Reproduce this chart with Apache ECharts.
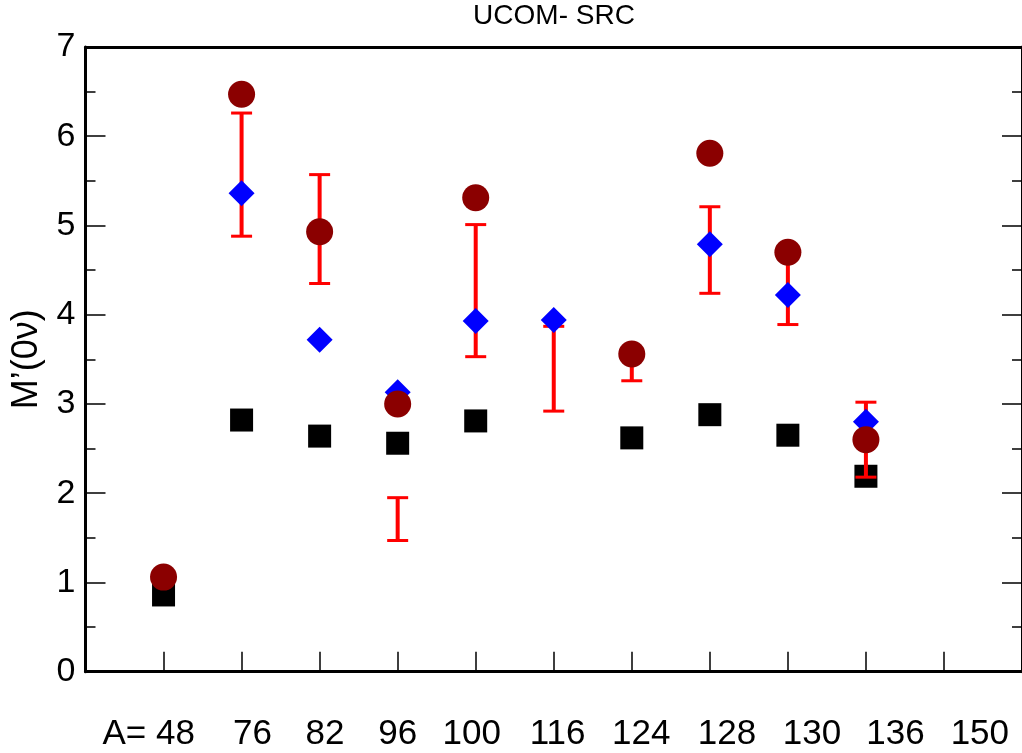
<!DOCTYPE html>
<html>
<head>
<meta charset="utf-8">
<script src="https://cdn.jsdelivr.net/npm/echarts@6/dist/echarts.min.js"></script>
<style>
html,body{margin:0;padding:0;background:#fff;}
#c{width:1022px;height:753px;}
</style>
</head>
<body>
<div id="c"></div>
<script>
// ---- data ----
const categories = ['48','76','82','96','100','116','124','128','130','136','150'];
const tickLabels = ['A= 48','76','82','96','100','116','124','128','130','136','150'];
const squareValues  = [0.86, 2.82, 2.64, 2.56, 2.81, null, 2.62, 2.88, 2.65, 2.19, null];
const circleValues  = [1.06, 6.47, 4.93, 3.00, 5.31, null, 3.56, 5.81, 4.70, 2.60, null];
const diamondValues = [null, 5.36, 3.72, 3.13, 3.93, 3.94, null, 4.79, 4.22, 2.80, null];
const errLow  = [null, 4.88, 4.35, 1.47, 3.53, 2.92, 3.26, 4.24, 3.89, 2.18, null];
const errHigh = [null, 6.26, 5.57, 1.95, 5.01, 3.87, 3.56, 5.21, 4.65, 3.02, null];
const yTicks = [0,1,2,3,4,5,6,7];

// layout: label anchor positions on the x axis (axis units)
const labelPos = [0.81, 2.14, 3.07, 4.0, 4.95, 6.05, 7.12, 8.22, 9.31, 10.38, 11.46];

const catPos = categories.map((c, i) => i + 1);
const toPairs = arr => arr.map((v, i) => v == null ? null : [i + 1, v]).filter(d => d);
const errData = errLow.map((lo, i) => lo == null ? null : [i + 1, lo, errHigh[i]]).filter(d => d);

const FONT = '"Liberation Sans", Arial, sans-serif';
const chart = echarts.init(document.getElementById('c'), null, {renderer: 'canvas'});

chart.setOption({
  animation: false,
  backgroundColor: '#fff',
  title: {
    text: 'UCOM- SRC',
    left: 554, top: 2, padding: 0,
    textAlign: 'center',
    textStyle: {fontFamily: FONT, fontSize: 28, fontWeight: 'normal', color: '#000'}
  },
  grid: {left: 85.5, right: -1.4, top: 47, bottom: 81.3, containLabel: false},
  xAxis: [{
    type: 'value', min: 0, max: 12, interval: 1, position: 'bottom',
    axisLine: {show: true, onZero: false, lineStyle: {color: '#000', width: 3}},
    axisTick: {show: true, inside: true, length: 20, customValues: catPos, lineStyle: {color: '#000', width: 1.5}},
    axisLabel: {
      show: true, margin: 45, customValues: labelPos,
      fontFamily: FONT, fontSize: 35, color: '#000',
      formatter: function (v) {
        let best = 0, bd = 1e9;
        labelPos.forEach((p, i) => { const d = Math.abs(p - v); if (d < bd) { bd = d; best = i; } });
        return tickLabels[best];
      }
    },
    splitLine: {show: false}
  }, {
    type: 'value', min: 0, max: 12, position: 'top',
    axisLine: {show: true, onZero: false, lineStyle: {color: '#000', width: 3}},
    axisTick: {show: false}, axisLabel: {show: false}, splitLine: {show: false}
  }],
  yAxis: [{
    type: 'value', min: 0, max: 7, interval: 1, position: 'left',
    name: 'M’(0ν)', nameLocation: 'middle', nameGap: 40, nameRotate: 90,
    nameTextStyle: {fontFamily: FONT, fontSize: 36, color: '#000'},
    axisLine: {show: true, onZero: false, lineStyle: {color: '#000', width: 3}},
    axisTick: {show: true, inside: true, length: 20, lineStyle: {color: '#000', width: 1.5}},
    minorTick: {show: true, splitNumber: 2, length: 10, lineStyle: {color: '#000', width: 1.5}},
    axisLabel: {
      margin: 10, fontFamily: FONT, fontSize: 34, color: '#000',
      formatter: v => yTicks.indexOf(v) >= 0 ? String(v) : ''
    },
    splitLine: {show: false}, minorSplitLine: {show: false}
  }, {
    type: 'value', min: 0, max: 7, interval: 1, position: 'right',
    axisLine: {show: true, onZero: false, lineStyle: {color: '#000', width: 3}},
    axisTick: {show: true, inside: true, length: 20, lineStyle: {color: '#000', width: 1.5}},
    minorTick: {show: true, splitNumber: 2, length: 10, lineStyle: {color: '#000', width: 1.5}},
    axisLabel: {show: false}, splitLine: {show: false}
  }],
  series: [{
    type: 'scatter', name: 'squares', z: 2,
    symbol: 'rect', symbolSize: 23,
    itemStyle: {color: '#000', opacity: 1},
    data: toPairs(squareValues)
  }, {
    type: 'custom', name: 'errors', z: 3,
    renderItem: function (params, api) {
      const x = api.value(0);
      const lo = api.coord([x, api.value(1)]);
      const hi = api.coord([x, api.value(2)]);
      const hw = 10.5;
      const st = {stroke: '#ff0000', lineWidth: 4};
      const cs = {stroke: '#ff0000', lineWidth: 3};
      return {
        type: 'group',
        children: [
          {type: 'line', shape: {x1: lo[0], y1: lo[1], x2: hi[0], y2: hi[1]}, style: st},
          {type: 'line', shape: {x1: lo[0] - hw, y1: lo[1], x2: lo[0] + hw, y2: lo[1]}, style: cs},
          {type: 'line', shape: {x1: hi[0] - hw, y1: hi[1], x2: hi[0] + hw, y2: hi[1]}, style: cs}
        ]
      };
    },
    encode: {x: 0, y: [1, 2]},
    data: errData
  }, {
    type: 'scatter', name: 'diamonds', z: 4,
    symbol: 'diamond', symbolSize: 26,
    itemStyle: {color: '#0000ff', opacity: 1},
    data: toPairs(diamondValues)
  }, {
    type: 'scatter', name: 'circles', z: 5,
    symbol: 'circle', symbolSize: 27,
    itemStyle: {color: '#8b0000', opacity: 1},
    data: toPairs(circleValues)
  }]
});
</script>
</body>
</html>
